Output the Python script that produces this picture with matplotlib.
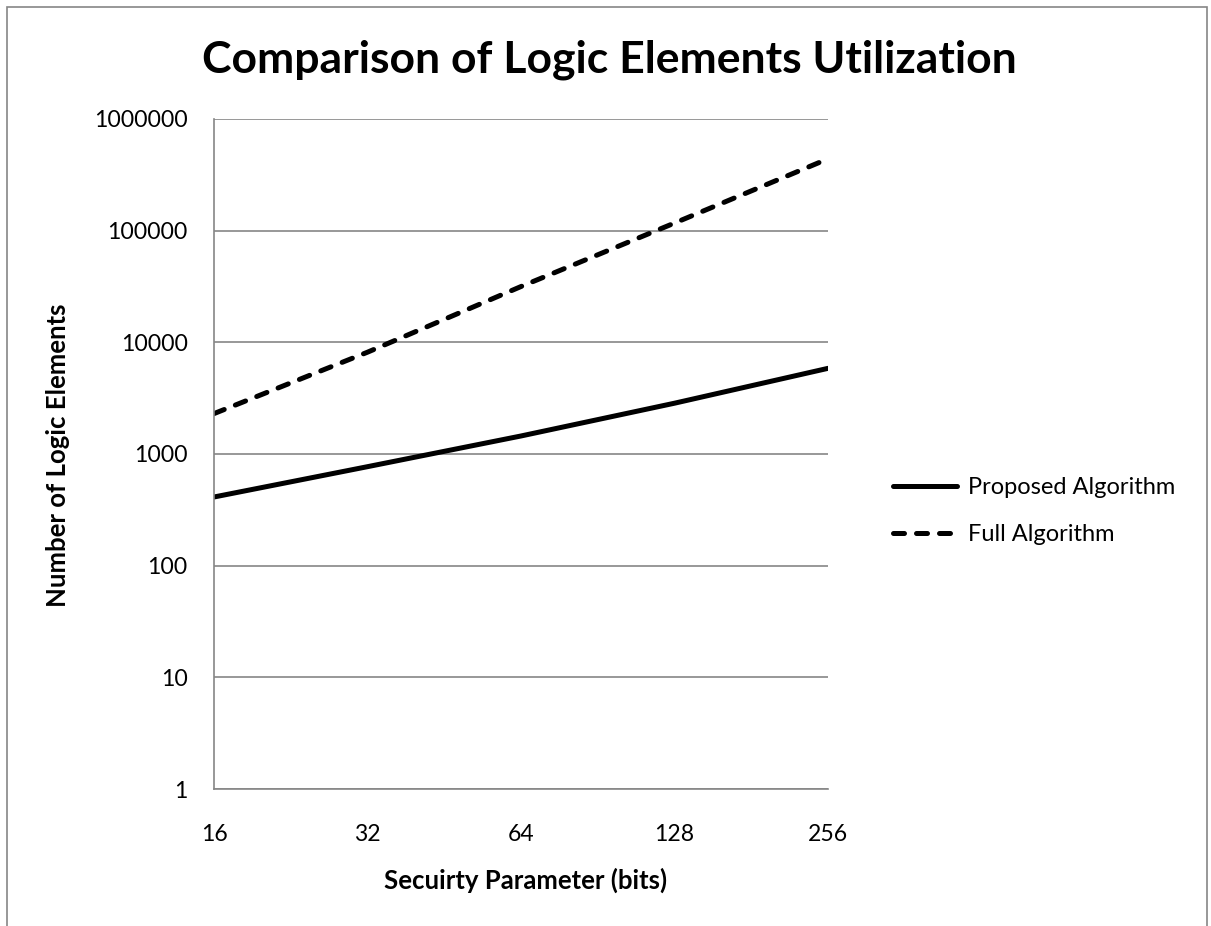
import numpy as np
import matplotlib.pyplot as plt
from matplotlib.patches import Rectangle
from matplotlib.ticker import FixedLocator, FixedFormatter, NullLocator

plt.rcParams["font.family"] = ["Lato", "DejaVu Sans"]

# security parameter (bits) and logic element counts
bits = [16, 32, 64, 128, 256]
proposed = [412, 770, 1450, 2850, 5850]
full = [2300, 8160, 31600, 117000, 440000]
y_ticks = [1, 10, 100, 1000, 10000, 100000, 1000000]

W, H = 1211, 926
fig = plt.figure(figsize=(W / 100, H / 100), dpi=100)

# outer chart border (open at the bottom)
fig.patches.append(Rectangle((7 / W, -0.05), 1200 / W, 1 - 7 / H + 0.05,
                             transform=fig.transFigure, fill=False,
                             edgecolor="#868686", lw=1.2))

ax = fig.add_axes([214 / W, 1 - 789 / H, 614 / W, 670 / H])
grey = "#868686"

ax.plot(bits, proposed, color="black", lw=3.6, solid_capstyle="round",
        label="Proposed Algorithm")
ax.plot(bits, full, color="black", lw=3.6, dashes=(2.2, 2.4),
        dash_capstyle="round", label="Full Algorithm")

ax.set_xscale("log", base=2)
ax.set_yscale("log")
ax.set_xlim(bits[0], bits[-1])
ax.set_ylim(y_ticks[0], y_ticks[-1])

ax.xaxis.set_major_locator(FixedLocator(bits))
ax.xaxis.set_major_formatter(FixedFormatter([str(b) for b in bits]))
ax.xaxis.set_minor_locator(NullLocator())
ax.yaxis.set_major_locator(FixedLocator(y_ticks))
ax.yaxis.set_major_formatter(FixedFormatter([str(v) for v in y_ticks]))
ax.yaxis.set_minor_locator(NullLocator())

ax.grid(axis="y", color=grey, lw=1.2)
ax.set_axisbelow(True)
for s in ("top", "right"):
    ax.spines[s].set_visible(False)
for s in ("left", "bottom"):
    ax.spines[s].set_color(grey)
    ax.spines[s].set_linewidth(1.2)
ax.tick_params(axis="both", length=0, labelsize=16.6, colors="black")
ax.tick_params(axis="y", pad=19)
ax.tick_params(axis="x", pad=25)

fig.text(609 / W, 1 - 60 / H, "Comparison of Logic Elements Utilization",
         ha="center", va="center", fontsize=32, fontweight="bold")
fig.text(526 / W, 1 - 880 / H, "Secuirty Parameter (bits)",
         ha="center", va="center", fontsize=18.5, fontweight="bold")
fig.text(58 / W, 1 - 455 / H, "Number of Logic Elements", rotation=90,
         ha="center", va="center", fontsize=18.5, fontweight="bold")

leg = ax.legend(loc="center left", bbox_to_anchor=(872 / W, 1 - 511 / H),
                bbox_transform=fig.transFigure, frameon=False, fontsize=17,
                handlelength=2.7, handletextpad=0.45, labelspacing=1.1)

fig.savefig("out.png", dpi=100)
